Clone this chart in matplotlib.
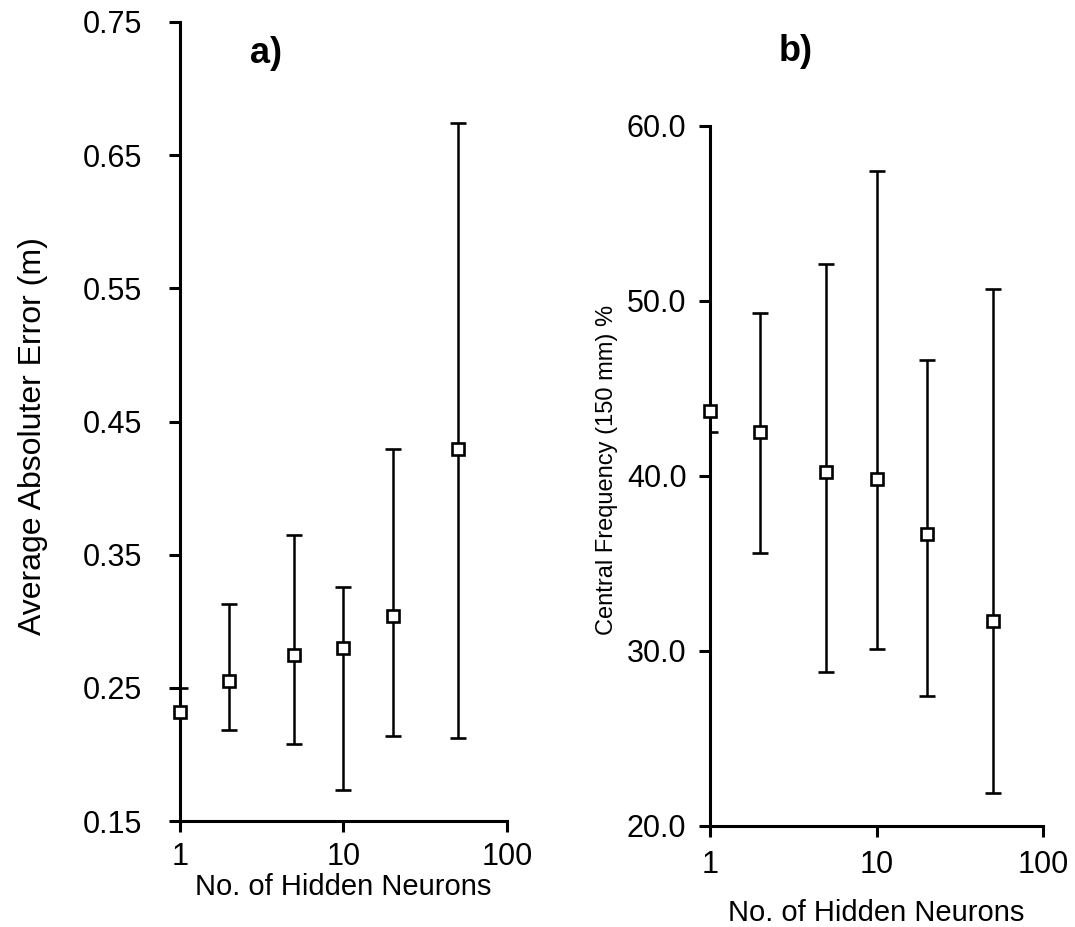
# -*- coding: utf-8 -*-

import numpy as np
import matplotlib
matplotlib.use("Agg")
import matplotlib.pyplot as plt

plt.rcParams['font.family'] = ['Liberation Sans', 'DejaVu Sans']

# Data
neurons = [1, 2, 5, 10, 20, 50]

# a) average absolute error (m)
err_mean = [0.232, 0.255, 0.275, 0.280, 0.304, 0.429]
err_low = [0.14, 0.218, 0.208, 0.173, 0.214, 0.212]
err_high = [0.250, 0.313, 0.365, 0.326, 0.429, 0.674]

# b) central frequency (150 mm) %
cf_mean = [43.7, 42.5, 40.2, 39.8, 36.7, 31.7]
cf_low = [42.5, 35.6, 28.8, 30.1, 27.4, 21.9]
cf_high = [61.0, 49.3, 52.1, 57.4, 46.6, 50.7]

a_yticks = [0.15, 0.25, 0.35, 0.45, 0.55, 0.65, 0.75]
b_yticks = [20.0, 30.0, 40.0, 50.0, 60.0]
xticks = [1, 10, 100]

# Configure options
operr = {
    "fmt": "s",
    "color": "black",
    "mfc": "white",
    "mec": "black",
    "ms": 8.5,
    "mew": 1.9,
    "elinewidth": 1.8,
    "capsize": 6,
    "capthick": 2.0,
}


def style_axis(ax, yticks, yfmt, ypad, xpad):
    ax.set_xscale("log")
    ax.set_xlim(1, 100)
    ax.set_ylim(yticks[0], yticks[-1])
    ax.set_xticks(xticks)
    ax.set_xticklabels([str(t) for t in xticks])
    ax.xaxis.set_minor_locator(matplotlib.ticker.NullLocator())
    ax.set_yticks(yticks)
    ax.set_yticklabels([yfmt.format(t) for t in yticks])
    for s in ["top", "right"]:
        ax.spines[s].set_visible(False)
    for s in ["left", "bottom"]:
        ax.spines[s].set_linewidth(2.2)
    ax.tick_params(direction="out", length=8, width=2.2, labelsize=22)
    ax.tick_params(axis="y", pad=ypad)
    ax.tick_params(axis="x", pad=xpad)


def draw_panel(ax, mean, low, high):
    mean = np.array(mean)
    yerr = [mean - np.array(low), np.array(high) - mean]
    line, caps, bars = ax.errorbar(neurons, mean, yerr=yerr, zorder=3, **operr)
    line.set_clip_on(False)  # markers sit on the left spine


fig = plt.figure(figsize=(10.75, 9.27), dpi=100)

ax1 = fig.add_axes([0.1674, 0.1143, 0.3042, 0.862])
draw_panel(ax1, err_mean, err_low, err_high)
style_axis(ax1, a_yticks, "{:.2f}", 19, 7)
ax1.set_xlabel("No. of Hidden Neurons", fontsize=21, labelpad=1)
ax1.set_ylabel("Average Absoluter Error (m)", fontsize=23)
ax1.yaxis.set_label_coords(-0.404, 0.482)
ax1.text(0.215, 0.96, "a)", transform=ax1.transAxes, fontsize=26,
         fontweight="bold", ha="left", va="center")

ax2 = fig.add_axes([0.6605, 0.109, 0.3098, 0.7551])
draw_panel(ax2, cf_mean, cf_low, cf_high)
style_axis(ax2, b_yticks, "{:.1f}", 9, 9)
ax2.set_xlabel("No. of Hidden Neurons", fontsize=21, labelpad=14)
ax2.set_ylabel("Central Frequency (150 mm) %", fontsize=17)
ax2.yaxis.set_label_coords(-0.276, 0.509)
fig.text(0.7245, 0.944, "b)", fontsize=26, fontweight="bold",
         ha="left", va="center")

fig.savefig("out.png", dpi=100)
